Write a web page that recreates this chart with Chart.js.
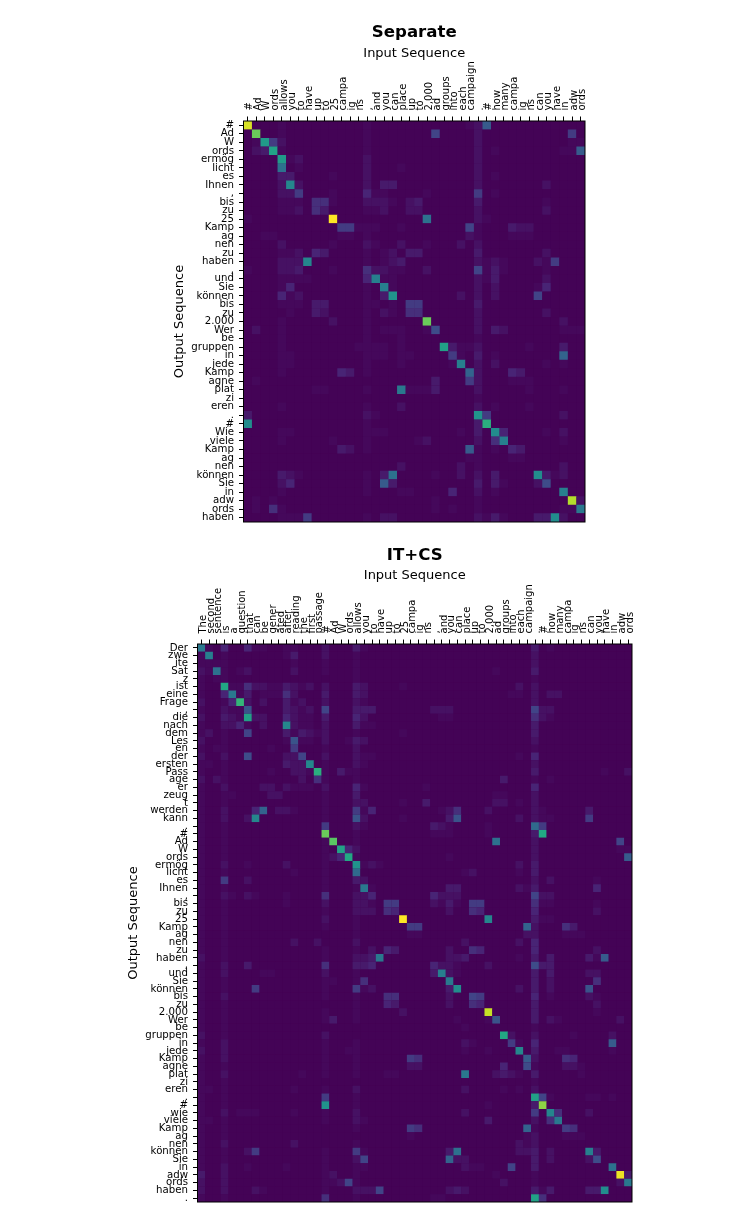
<!DOCTYPE html>
<html lang="de">

<head>
  <meta charset="UTF-8" />
  <title>Attention maps</title>
  <script src="https://cdn.jsdelivr.net/npm/chart.js"></script>
  <style>
    body {
      margin: 0;
      background: white;
    }

    canvas {
      position: absolute;
      left: 0;
    }

    #separate {
      top: 0;
    }

    #itcs {
      top: 535px;
    }
  </style>
</head>

<body>
  <canvas id="separate" width="747" height="535"></canvas>
  <canvas id="itcs" width="747" height="679"></canvas>

  <script>
    const separateInputs = ['#', 'Ad', 'W', 'ords', 'allows', 'you', 'to', 'have', 'up', 'to', '25', 'campa', 'ig', 'ns', ',', 'and', 'you', 'can', 'place', 'up', 'to', '2,000', 'ad', 'groups', 'into', 'each', 'campaign', '.', '#', 'how', 'many', 'campa', 'ig', 'ns', 'can', 'you', 'have', 'in', 'adw', 'ords'];
    const separateOutputs = ['#', 'Ad', 'W', 'ords', 'ermög', 'licht', 'es', 'Ihnen', ',', 'bis', 'zu', '25', 'Kamp', 'ag', 'nen', 'zu', 'haben', ',', 'und', 'Sie', 'können', 'bis', 'zu', '2.000', 'Wer', 'be', 'gruppen', 'in', 'jede', 'Kamp', 'agne', 'plat', 'zi', 'eren', '.', '#', 'Wie', 'viele', 'Kamp', 'ag', 'nen', 'können', 'Sie', 'in', 'adw', 'ords', 'haben'];
    const itcsInputs = ['The', 'second', 'sentence', 'is', 'a', 'question', 'that', 'can', 'be', 'gener', 'ated', 'after', 'reading', 'the', 'first', 'passage', '#', 'Ad', 'W', 'ords', 'allows', 'you', 'to', 'have', 'up', 'to', '25', 'campa', 'ig', 'ns', ',', 'and', 'you', 'can', 'place', 'up', 'to', '2,000', 'ad', 'groups', 'into', 'each', 'campaign', '.', '#', 'how', 'many', 'campa', 'ig', 'ns', 'can', 'you', 'have', 'in', 'adw', 'ords'];
    const itcsOutputs = ['Der', 'zwe', 'ite', 'Sat', 'z', 'ist', 'eine', 'Frage', ',', 'die', 'nach', 'dem', 'Les', 'en', 'der', 'ersten', 'Pass', 'age', 'er', 'zeug', 't', 'werden', 'kann', '.', '#', 'Ad', 'W', 'ords', 'ermög', 'licht', 'es', 'Ihnen', ',', 'bis', 'zu', '25', 'Kamp', 'ag', 'nen', 'zu', 'haben', ',', 'und', 'Sie', 'können', 'bis', 'zu', '2.000', 'Wer', 'be', 'gruppen', 'in', 'jede', 'Kamp', 'agne', 'plat', 'zi', 'eren', '.', '#', 'wie', 'viele', 'Kamp', 'ag', 'nen', 'können', 'Sie', 'in', 'adw', 'ords', 'haben', '.'];

    // one string per output row, one base-36 char per input column (0 = lowest, z = 1.0)
    const separateRows = [
      'x000100000 0000100000 00000012a0 0000000000',
      '0r00100000 0000100000 0070000200 0000000060',
      '01j6200000 0000100000 0000000200 0000000011',
      '023k100000 0000100000 0000000201 000000011a',
      '0000j12000 0000200000 0000000200 0000000000',
      '0000d01000 0000200010 0000000200 0000000000',
      '0000330000 1000200000 0000000201 0000000000',
      '00002g2000 0000203300 0000000200 0000020000',
      '0000226000 1000411000 0100000601 0000000000',
      '0000111055 1000222102 3000000300 0000010000',
      '0000112053 0000112002 2000000200 0000020000',
      '1000000000 z000000000 0d00000210 0000000000',
      '0000000000 0661110010 0000007100 0322000000',
      '0011000000 0110100000 0000002100 0111000000',
      '0000200000 1000210020 0100020200 0000000000',
      '0000112043 0000101203 3000000300 0000020000',
      '0000222g00 0000101230 0000000212 1000216000',
      '1000223000 1000522110 0200000713 1000010000',
      '0000111100 00004f1100 0000000213 0000020000',
      '0000140000 000010f100 0000000202 0000140000',
      '0000412000 0000103i00 0000020202 0000700000',
      '0000111033 0000110106 6000000300 0000000000',
      '0000010032 0000102105 5000000200 0000020000',
      '0000100000 2000100000 0r00000200 0000000200',
      '0200100000 0000101110 0180000203 2000000111',
      '0000100000 0000100010 0000000100 0000000000',
      '0000100000 0001111010 000k311200 0001000300',
      '0000110000 0000111011 0000610301 0000000b00',
      '0000110000 0000100010 00001f0202 0000010100',
      '0000100000 0430100000 000000b200 0430000000',
      '0100000000 0000000000 0030006200 0111000000',
      '0000000011 00001000e1 1130000200 0001000100',
      '0000000000 0000000000 0000000100 0000000000',
      '0000100000 0000100020 0000000201 0001000000',
      '3000000000 0000210000 0000000i60 0000000200',
      'h000000000 0000100000 00000003m0 0000000000',
      '0000110000 0000111000 000001030h 4000010200',
      '0000100000 1000100000 1200000205 f000000100',
      '0000000000 0320100000 000000a101 0430000000',
      '0000000000 0000000000 0000001100 0110000000',
      '0000000000 0000000020 0000020100 0000000200',
      '0000321000 0000103d00 0010020203 0000h31200',
      '0000240000 000010a300 0000000303 1000280000',
      '0000100000 0000100011 0000400201 0000000f00',
      '0101000000 0000000000 0010000100 00000000v2',
      '0105100000 0000000000 0010100100 000000011e',
      '0000111600 0000102200 0000000213 100033h200'
    ];

    const itcsRows = [
      'e104004110 0110002000 3100000000 0000000000 0003010000 000000',
      '1f01000000 0130002000 1000000000 0000000000 0002000000 000000',
      '1111000000 0010001000 1000000000 0000000000 0002000000 000000',
      '21d1012000 0020001000 1000000000 0000000010 0003000000 000000',
      '1011000000 0000000000 1000000000 0000000000 0001000000 000000',
      '100l115221 1321202000 3200001000 0000000000 0202000000 000000',
      '1004e13011 1520003000 3200000000 0000000000 1102022000 000000',
      '20014n2020 0312002000 2100000000 0000000000 0002000000 000000',
      '1002119000 0321207000 3330000000 2220000000 0007220000 000000',
      '200321k220 0421103000 4200000000 0110000000 0005210000 000000',
      '1002241020 0g21102000 3110000000 0000000000 0003000000 000000',
      '1201007000 0313212000 1000001000 0000000000 0003000000 000000',
      '2001000000 0191102001 3200000000 0000000000 0002000000 000000',
      '1011000001 0060001000 2000000000 0000000000 0001000000 000000',
      '2002008000 0227002000 2110000000 0000000000 0104000000 000000',
      '1101000000 0322g01000 2100000000 0000000000 0002000000 000000',
      '1001000001 00221m1031 1000000000 0000000000 0003000000 001002',
      '2021000000 0002051000 1000000000 0000000003 0001010000 000000',
      '1002000022 0211102000 4100000001 0000000000 0004000000 000000',
      '1001100002 2000001000 3000000000 0000000011 0002000000 000000',
      '1001000000 0000001000 2200001003 0000000022 0102000000 000000',
      '10020004b0 2210001000 6140000000 0125000200 0002100000 300000',
      '1002002g00 0000001000 9200001000 0039000000 0202110000 600000',
      '1001000000 0000006000 2100000000 3210000100 000c600000 000000',
      '1001000000 000000r000 1000000000 1110000100 0003l00000 000000',
      '1001000000 0000001q00 1000000000 00000000d0 0002000000 000070',
      '1001000000 00000010k4 2000000000 0000000000 0002000000 000011',
      '1001000000 000000124l 1000000000 0010000000 0002000000 00000a',
      '1002001000 0200001000 i121000000 0000000000 0203000000 000000',
      '1001000000 0010001000 c000000000 0000120000 0103000000 000000',
      '1006002000 0000001000 3200000000 0000000000 0002020000 010000',
      '1001000000 0000001000 1e10000000 0033000000 0213000000 040000',
      '1002102100 0100005000 2240000000 4222000000 0007220000 000000',
      '1001000000 0100002000 2210660000 2131066000 0005110000 010000',
      '1001000000 0000001000 2220540000 0020054000 0004000000 020000',
      '1001000000 0000002000 100000z000 0000000g00 0003110000 000000',
      '1001000000 0000001000 1000000660 0000000000 00b2000530 000000',
      '1001000000 0000000000 1000000110 0000000000 0022000111 000000',
      '1001000000 0020020000 2000000000 0000200000 0204000000 000000',
      '1001000000 0000001000 1020430000 0020054000 0004000000 020000',
      '2001000000 0000001000 223e000000 0022300000 0103030000 31a000',
      '1002003000 0000005000 3340000000 4221000200 0008330000 000000',
      '1002000011 0000002000 1000000000 3f21000000 0003030000 220000',
      '1001000000 0000001100 1500000000 00e0000000 0003020000 050000',
      '1001000600 0000001000 6120000000 003h000000 0203020000 900000',
      '1002000000 0000001000 1000550000 0020076000 0004010000 210000',
      '1001000000 0000000000 1000430000 0020054000 0003000000 020000',
      '1001000000 0000001000 1000002000 0000000w00 0003000000 010000',
      '1001000000 0000001300 1000000000 0001000190 0003021000 000020',
      '1001000000 0000000000 0000000000 0000100000 0001000000 000000',
      '2001000000 0000002000 0000000000 000000000l 2002000010 000200',
      '1002000000 0000001000 1000000000 0000210000 6104000000 000a00',
      '2002000000 0000001001 1000000000 0000100100 0g03001100 000100',
      '1002000000 0000001000 1000000650 0000000000 00a2000540 000000',
      '1001000000 0000001000 1000000220 0000000004 0081000221 000000',
      '1002000000 0001001000 1000110000 0000e00023 2103000001 000000',
      '1001000000 0000000000 0000000000 0000000000 0001000000 000000',
      '1101000000 0010001000 2000000000 0000200001 0102000000 000000',
      '1001000000 0000006000 1000000000 0000000000 000k710000 110100',
      '1001000000 000000i000 1000000000 0000000100 0003t00000 000000',
      '1002011100 0010001000 2000000000 0000200000 00060g5000 200000',
      '1101000000 0000001000 2100000000 0000000300 000205e000 000000',
      '1001000000 0000000000 1000000650 0000000000 00b1000650 000000',
      '1001000000 0000000000 0000000100 0000000000 0012000111 000000',
      '1002000000 0020000000 1000000000 0000000000 0212000000 000000',
      '1001002600 0000001000 6100000000 003d000000 0223020000 f30000',
      '1001000000 0000001000 2700000000 00b2200000 0003020000 280000',
      '1002001000 0100001000 1100000000 0000211000 7003000000 000d00',
      '3002000000 0000001200 1000000000 0000000010 0001000000 0000y3',
      '2002000000 0000001127 1000000000 0000000002 0001000000 00002e',
      '2002000210 0000001000 2227000000 0023200000 0003130000 33h000',
      '1001000000 0000005000 1000000000 1100000000 000k500000 000000'
    ];

    // the faint levels are closer together than the rest
    const niveisBaixos = [0.005, 0.02, 0.045, 0.07, 0.1, 0.135];
    const viridis = ['#440154', '#482475', '#414487', '#355f8d', '#2a788e', '#21908d', '#22a884', '#42be71', '#7ad151', '#bddf26', '#fde725'];

    function corVal(v) {
      const p = v * (viridis.length - 1);
      const i = Math.min(Math.floor(p), viridis.length - 2);
      const t = p - i;
      const a = viridis[i], b = viridis[i + 1];
      const c = [1, 3, 5].map(k => {
        const x = parseInt(a.substr(k, 2), 16);
        const y = parseInt(b.substr(k, 2), 16);
        return Math.round(x + (y - x) * t);
      });
      return `rgb(${c[0]},${c[1]},${c[2]})`;
    }

    function celulas(rows) {
      const pts = [];
      rows.forEach((row, y) => {
        [...row.replace(/ /g, '')].forEach((ch, x) => {
          const n = parseInt(ch, 36);
          pts.push({ x, y, v: n < niveisBaixos.length ? niveisBaixos[n] : n / 35 });
        });
      });
      return pts;
    }

    const moldura = {
      id: 'moldura',
      beforeDatasetsDraw(chart) {
        const a = chart.chartArea;
        chart.ctx.fillStyle = viridis[0];
        chart.ctx.fillRect(a.left, a.top, a.width, a.height);
      },
      afterDraw(chart) {
        const a = chart.chartArea;
        chart.ctx.strokeStyle = '#000';
        chart.ctx.lineWidth = 1;
        chart.ctx.strokeRect(a.left, a.top, a.width, a.height);
      }
    };

    const fonte = 'DejaVu Sans';

    function desenhar(id, titulo, inputs, outputs, rows, box) {
      new Chart(document.getElementById(id), {
        type: 'scatter',
        data: {
          datasets: [{
            data: celulas(rows),
            pointStyle: 'rect',
            borderWidth: 0,
            backgroundColor: ctx => corVal(ctx.raw.v),
            radius: ctx => (ctx.chart.scales.x.width / inputs.length) * Math.SQRT1_2 + 0.15
          }]
        },
        options: {
          responsive: false,
          animation: false,
          events: [],
          layout: { padding: { left: box.left, right: box.right, top: box.top, bottom: box.bottom } },
          plugins: {
            legend: { display: false },
            tooltip: { enabled: false },
            title: {
              display: true,
              text: titulo,
              fullSize: false,
              color: '#000',
              font: { family: fonte, size: 16.6, weight: 'bold' },
              padding: 0
            }
          },
          scales: {
            x: {
              type: 'linear',
              position: 'top',
              min: -0.5,
              max: inputs.length - 0.5,
              afterBuildTicks: s => { s.ticks = inputs.map((_, i) => ({ value: i })); },
              afterFit: s => { s.height = 78.08; s.paddingLeft = 0; s.paddingRight = 0; },
              grid: { drawOnChartArea: false, color: '#000', tickLength: 4.5 },
              border: { display: false },
              title: {
                display: true,
                text: 'Input Sequence',
                color: '#000',
                font: { family: fonte, size: 13 },
                padding: { top: box.tituloX, bottom: 0 }
              },
              ticks: {
                autoSkip: false,
                minRotation: 90,
                maxRotation: 90,
                padding: 6,
                labelOffset: 14,
                color: '#000',
                font: { family: fonte, size: 10 },
                callback: v => inputs[v]
              }
            },
            y: {
              type: 'linear',
              reverse: true,
              min: -0.5,
              max: outputs.length - 0.5,
              afterBuildTicks: s => { s.ticks = outputs.map((_, i) => ({ value: i })); },
              afterFit: s => { s.width = 71.5; s.paddingTop = 0; s.paddingBottom = 0; },
              grid: { drawOnChartArea: false, color: '#000', tickLength: 4.5 },
              border: { display: false },
              title: {
                display: true,
                text: 'Output Sequence',
                color: '#000',
                font: { family: fonte, size: 13 },
                padding: { top: 0, bottom: 0 }
              },
              ticks: {
                autoSkip: false,
                padding: 5,
                color: '#000',
                font: { family: fonte, size: 10.2 },
                callback: v => outputs[v]
              }
            }
          }
        },
        plugins: [moldura]
      });
    }

    desenhar('separate', 'Separate', separateInputs, separateOutputs, separateRows,
      { left: 172, right: 162, top: 23, bottom: 13, tituloX: 2.5 });
    desenhar('itcs', 'IT+CS', itcsInputs, itcsOutputs, itcsRows,
      { left: 126, right: 115, top: 11, bottom: 12, tituloX: 2 });
  </script>
</body>

</html>
